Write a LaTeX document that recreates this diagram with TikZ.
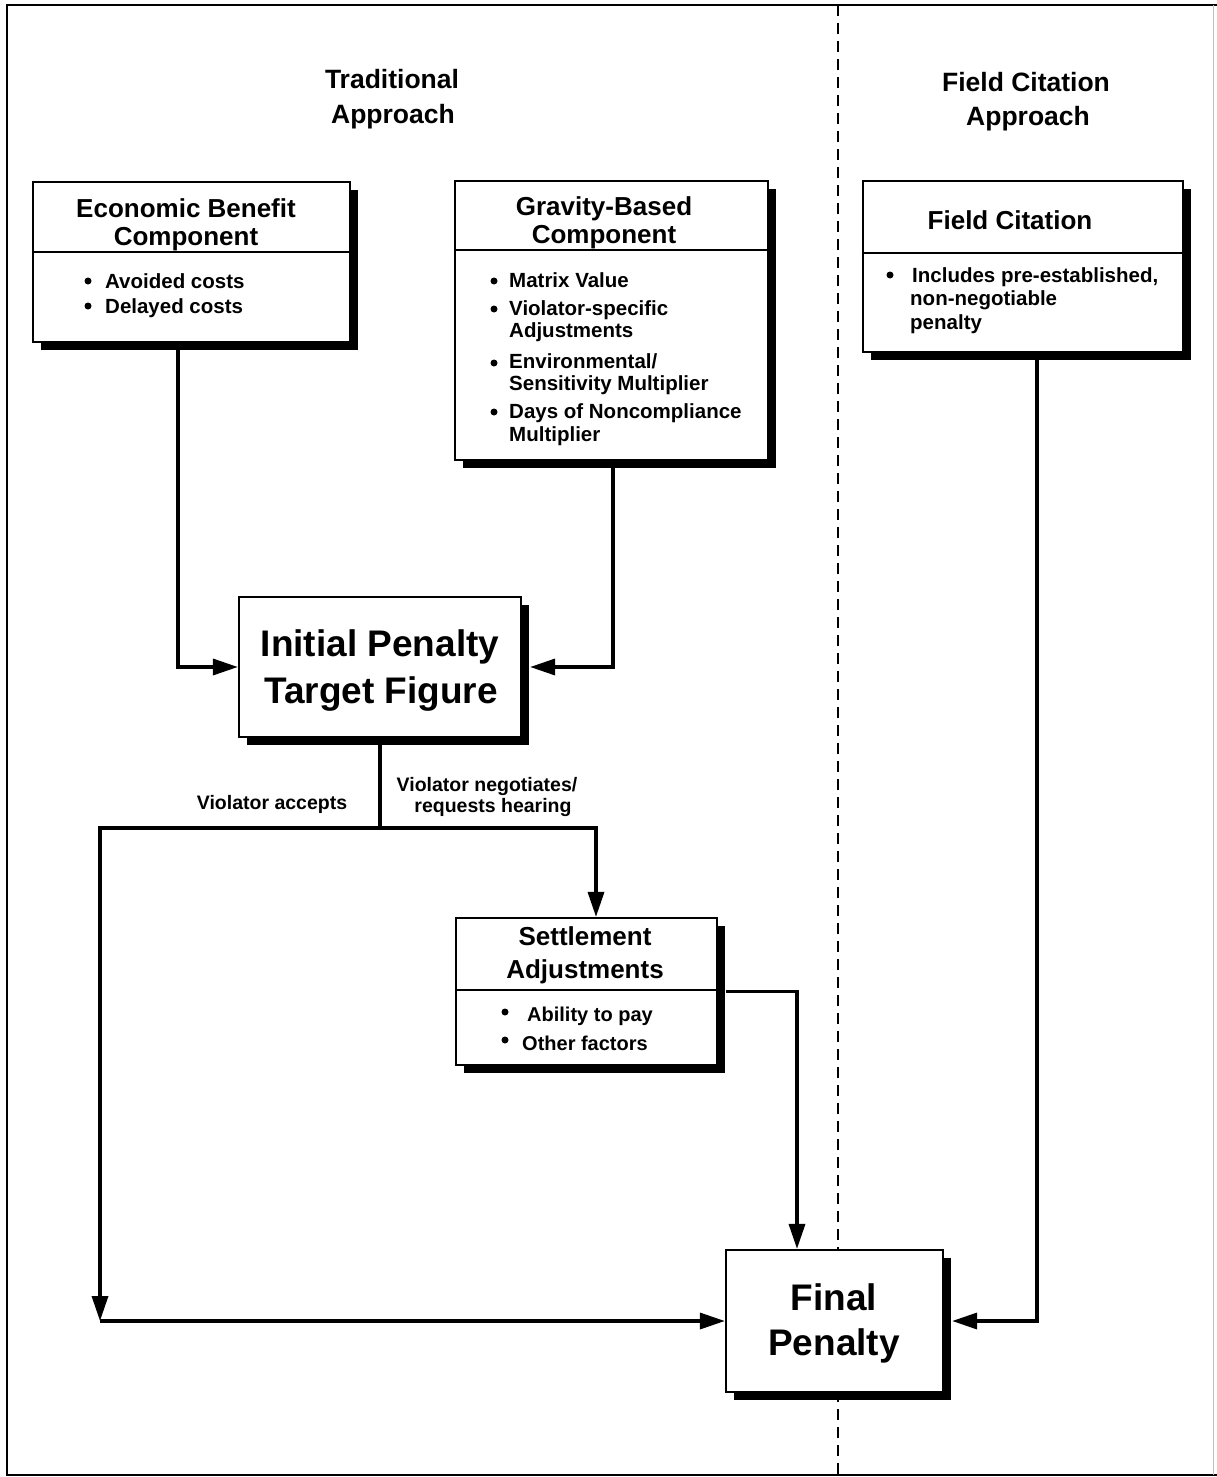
\documentclass[tikz,border=0pt]{standalone}
\usepackage{fontspec}
\setmainfont{Liberation Sans}
\usetikzlibrary{arrows.meta,shadows,calc}
\begin{document}
\begin{tikzpicture}[x=1pt,y=-1pt,
  box/.style={draw, fill=white, line width=2.2pt, inner sep=0pt,
    general shadow={fill=black, shadow xshift=8pt, shadow yshift=-8pt}},
  divider/.style={line width=2.2pt},
  conn/.style={line width=3.4pt},
  arr/.style={conn, -{Triangle[length=25pt,width=16pt]}},
  title/.style={font=\fontsize{26.5}{31}\selectfont\bfseries, anchor=base, inner sep=0pt},
  head/.style={font=\fontsize{26}{30}\selectfont\bfseries, anchor=base, inner sep=0pt},
  big/.style={font=\fontsize{37}{44}\selectfont\bfseries, anchor=base, inner sep=0pt},
  item/.style={font=\fontsize{20.5}{24}\selectfont\bfseries, anchor=base west, inner sep=0pt},
  sitem/.style={font=\fontsize{20}{24}\selectfont\bfseries, anchor=base west, inner sep=0pt},
  lbl/.style={font=\fontsize{19.5}{23}\selectfont\bfseries, anchor=base, inner sep=0pt},
  dot/.style={circle, fill=black, inner sep=0pt, minimum size=7pt}]
\useasboundingbox (0,0) rectangle (1217,1477);
% frame and divider
\draw[line width=2.2pt] (1217,5) -- (7,5) -- (7,1475) -- (1217,1475);
\draw[line width=0.8pt, black!25] (1213,5) -- (1213,1475);
\draw[line width=2.2pt, dash pattern=on 11pt off 7pt] (838,5) -- (838,1477);
% titles
\node[title] (t1) at (392,89) {Traditional};
\node[title] (t2) at (393,124) {Approach};
\node[title] (t3) at (1026,92) {Field Citation};
\node[title] (t4) at (1028,126) {Approach};
% Economic benefit box
\node[box, minimum width=317pt, minimum height=160pt] (econ) at (191.5,262) {};
\draw[divider] (econ.west |- 0,252) -- (econ.east |- 0,252);
\node[head] (e1) at (186,217) {Economic Benefit};
\node[head] (e2) at (186,245) {Component};
\node[dot] (ed1) at (88,281) {};
\node[item] (ei1) at (105,288) {Avoided costs};
\node[dot] (ed2) at (88,306) {};
\node[item] (ei2) at (105,313) {Delayed costs};
% Gravity box
\node[box, minimum width=313pt, minimum height=279pt] (grav) at (611.5,320.5) {};
\draw[divider] (grav.west |- 0,250) -- (grav.east |- 0,250);
\node[head] (g1) at (604,215) {Gravity-Based};
\node[head] (g2) at (604,243) {Component};
\node[dot] (gd1) at (494,281) {};
\node[item] (gi1) at (509,287) {Matrix Value};
\node[dot] (gd2) at (494,309) {};
\node[item] (gi2) at (509,315) {Violator-specific};
\node[item] (gi2b) at (509,337) {Adjustments};
\node[dot] (gd3) at (494,363) {};
\node[item] (gi3) at (509,368) {Environmental/};
\node[item] (gi3b) at (509,390) {Sensitivity Multiplier};
\node[dot] (gd4) at (494,412) {};
\node[item] (gi4) at (509,418) {Days of Noncompliance};
\node[item] (gi4b) at (509,441) {Multiplier};
% Field citation box
\node[box, minimum width=320pt, minimum height=171pt] (field) at (1023,266.5) {};
\draw[divider] (field.west |- 0,253) -- (field.east |- 0,253);
\node[head] (f1) at (1010,229) {Field Citation};
\node[dot] (fd1) at (890,275) {};
\node[item] (fi1) at (912,282) {Includes pre-established,};
\node[item] (fi1b) at (910,305) {non-negotiable};
\node[item] (fi1c) at (910,329) {penalty};
% Initial penalty box
\node[box, minimum width=282pt, minimum height=140pt] (init) at (380,667) {};
\node[big] (i1) at (380,656) {Initial Penalty};
\node[big] (i2) at (381,703) {Target Figure};
% Settlement box
\node[box, minimum width=261pt, minimum height=147pt] (settle) at (586.5,991.5) {};
\draw[divider] (settle.west |- 0,990) -- (settle.east |- 0,990);
\node[head] (s1) at (585,945) {Settlement};
\node[head] (s2) at (585,978) {Adjustments};
\node[dot] (sd1) at (505,1012) {};
\node[sitem] (si1) at (527,1021) {Ability to pay};
\node[dot] (sd2) at (505,1040) {};
\node[sitem] (si2) at (522,1050) {Other factors};
% Final penalty box
\node[box, minimum width=217pt, minimum height=142pt] (final) at (834.5,1321) {};
\node[big] (p1) at (834,1310) {Final};
\node[big] (p2) at (834,1355) {Penalty};
% labels
\node[lbl] (la) at (272,809) {Violator accepts};
\node[lbl] (lb1) at (487,791) {Violator negotiates/};
\node[lbl] (lb2) at (493,812) {requests hearing};
% connector helper coordinates
\coordinate (ex) at (178,0);
\coordinate (gx) at (613,0);
\coordinate (j) at (380,828);
\coordinate (lc) at (100,828);
\coordinate (ll) at (lc |- final.west);
\coordinate (sx) at (596,828);
\coordinate (fx) at (797,0);
\coordinate (cx) at (1037,0);
% connectors
\draw[arr] (econ.south -| ex) |- (init.west);
\draw[arr] (grav.south -| gx) |- ([xshift=8pt]init.east);
\draw[conn] (init.south) -- (j);
\draw[conn, line cap=rect] (j) -- (lc);
\draw[arr] (lc) -- (ll);
\draw[arr] (ll) -- (final.west);
\draw[arr] (j) -- (sx) -- (settle.north -| sx);
\draw[arr] ([xshift=8pt]settle.east) -| (final.north -| fx);
\draw[arr] (field.south -| cx) |- ([xshift=8pt]final.east);
\end{tikzpicture}
\end{document}
